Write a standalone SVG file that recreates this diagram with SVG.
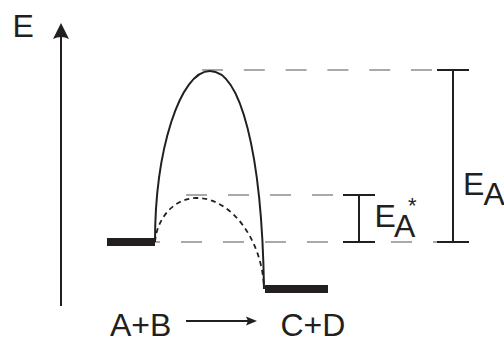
<svg xmlns="http://www.w3.org/2000/svg" width="504" height="342" viewBox="0 0 504 342">
<style>
.t{font-family:"Liberation Sans",Arial,sans-serif;font-size:32px;fill:#231f20}
.g{stroke:#a7a9ac;stroke-width:2;fill:none;stroke-dasharray:21 21}
.k{stroke:#231f20;stroke-width:2;fill:none}
</style>
<rect width="504" height="342" fill="#fff"/>
<g id="guides">
<line class="g" x1="202" y1="70" x2="437" y2="70" style="stroke-dasharray:21 20.8"/>
<line class="g" x1="186" y1="195" x2="343" y2="195"/>
<line class="g" x1="139" y1="242" x2="437" y2="242"/>
</g>
<g id="axis">
<line class="k" x1="61" y1="306" x2="61" y2="34"/>
<path d="M61 23 L69 39 Q61 35 53 39 Z" fill="#231f20"/>
<text class="t" x="12.5" y="37">E</text>
</g>
<g id="reactants"><rect x="107" y="238" width="48" height="8" fill="#231f20"/></g>
<g id="products"><rect x="265" y="285" width="63" height="8" fill="#231f20"/></g>
<g id="connectors">
<path class="k" d="M155 242 C155 150 180 71 210 71 C240 71 262 150 264 289"/>
<path class="k" d="M155 242 C157 218 174 198 197 198 C230 198 262 238 264 288" style="stroke-dasharray:5 4;stroke-width:1.8"/>
</g>
<g id="ea-star">
<line class="k" x1="359" y1="195" x2="359" y2="242"/>
<line class="k" x1="343" y1="195" x2="375" y2="195"/>
<line class="k" x1="343" y1="242" x2="375" y2="242"/>
<text class="t" x="374.5" y="227">E</text>
<text class="t" x="394" y="237">A</text>
<text class="t" x="408" y="213" style="font-size:22px">*</text>
</g>
<g id="ea">
<line class="k" x1="453" y1="70" x2="453" y2="242"/>
<line class="k" x1="437" y1="70" x2="469" y2="70"/>
<line class="k" x1="437" y1="242" x2="469" y2="242"/>
<text class="t" x="463" y="195">E</text>
<text class="t" x="483.5" y="205">A</text>
</g>
<g id="reaction">
<text class="t" x="110" y="336">A+B</text>
<line class="k" x1="186" y1="321" x2="250" y2="321"/>
<path d="M257 321 L246 316.5 L248 321 L246 325.5 Z" fill="#231f20"/>
<text class="t" x="280.5" y="336">C+D</text>
</g>
</svg>
